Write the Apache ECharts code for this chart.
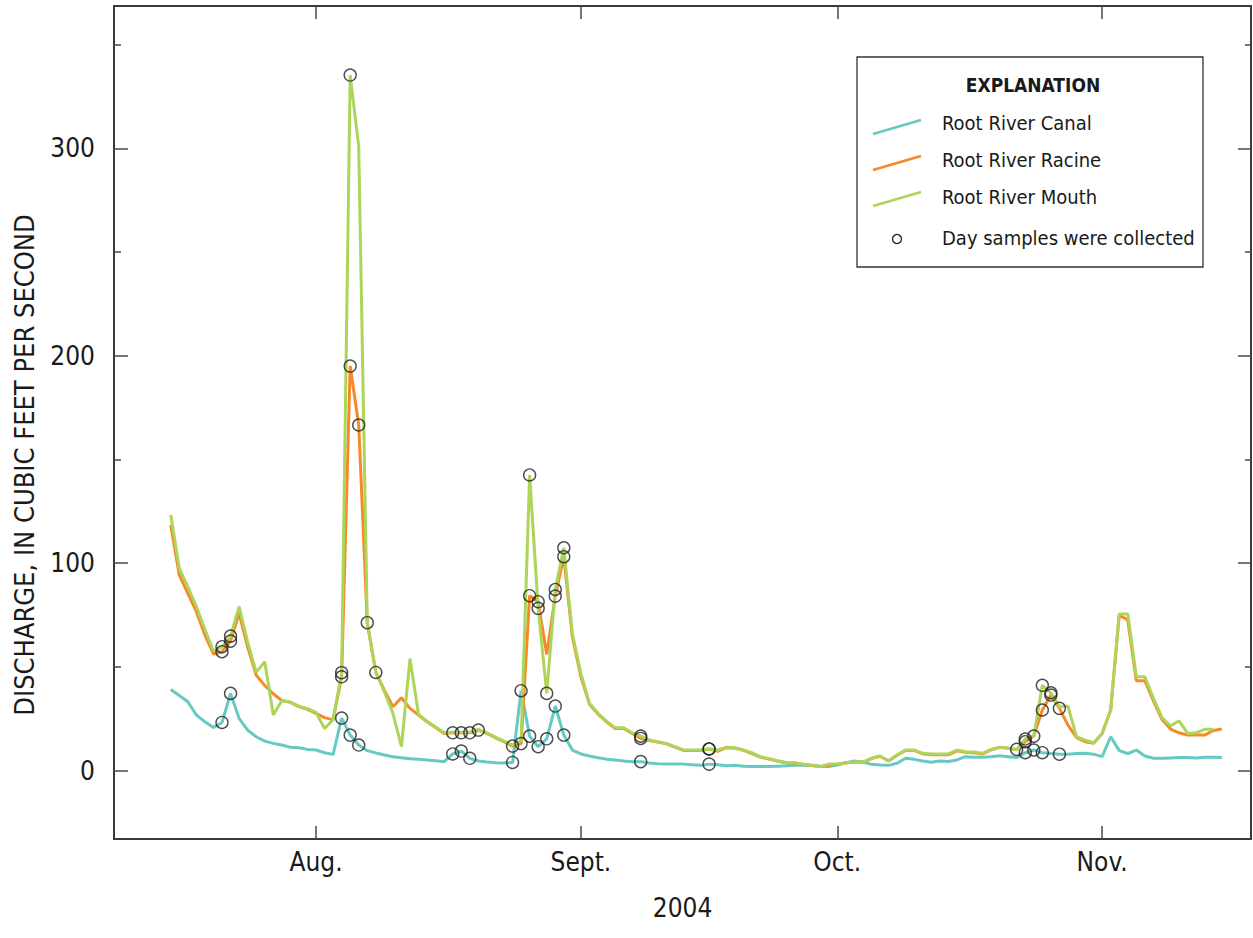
<!DOCTYPE html>
<html>
<head>
<meta charset="utf-8">
<script src="https://cdn.jsdelivr.net/npm/echarts@6/dist/echarts.min.js"></script>
<style>
html,body{margin:0;padding:0;background:#fff;}
#chart{width:1253px;height:938px;}
</style>
</head>
<body>
<div id="chart"></div>
<script>
// Day index: 0 = Aug. 1, 2004; first value is July 15 (day -17)
const startDay = -17;

const canal = [
  39.1, 36.2, 33.2, 26.8, 23.5, 20.8, 23.2, 37.2, 25.2, 19.5,
  16.3, 14.2, 13.1, 12.3, 11.2, 11.0, 10.2, 9.9, 8.6, 7.8,
  25.3, 17.1, 12.3, 9.6, 8.5, 7.5, 6.7, 6.2, 5.7, 5.4,
  5.1, 4.7, 4.3, 8.0, 9.4, 5.9, 4.6, 4.1, 3.8, 3.7,
  3.9, 38.5, 16.6, 11.5, 15.3, 31.1, 17.1, 9.9, 8.0, 7.0,
  6.2, 5.5, 5.1, 4.6, 4.3, 4.3, 3.6, 3.3, 3.1, 3.1,
  3.1, 2.8, 2.5, 3.1, 2.8, 2.3, 2.6, 2.1, 2.0, 1.9,
  1.9, 2.1, 2.3, 2.6, 2.6, 2.5, 2.1, 1.9, 2.7, 3.8,
  4.6, 4.1, 3.0, 2.7, 2.5, 3.5, 5.9, 5.4, 4.6, 4.0,
  4.6, 4.4, 5.1, 6.7, 6.4, 6.4, 6.7, 7.1, 6.7, 6.3,
  8.6, 9.9, 8.6, 8.2, 7.9, 7.9, 8.2, 8.3, 7.9, 6.7,
  16.3, 9.6, 8.2, 9.9, 7.0, 5.9, 5.9, 6.1, 6.3, 6.3,
  6.1, 6.4, 6.4, 6.3
];

const racine = [
  118.4, 94.3, 85.4, 76.6, 65.3, 56.2, 57.3, 62.4, 75.8, 59.5,
  46.0, 41.0, 37.0, 33.8, 32.9, 30.8, 29.5, 27.6, 25.5, 24.5,
  45.2, 195.0, 166.6, 71.3, 47.3, 38.8, 30.8, 35.1, 30.0, 26.8,
  23.5, 20.7, 17.9, 18.2, 18.2, 18.2, 19.5, 17.9, 15.8, 13.9,
  11.8, 13.0, 84.3, 81.4, 56.0, 84.1, 103.1, 64.5, 45.2, 32.0,
  27.2, 23.5, 20.3, 20.3, 17.9, 15.5, 14.5, 13.7, 12.9, 11.3,
  9.7, 9.7, 9.7, 10.4, 9.3, 11.0, 10.9, 9.8, 8.2, 6.5,
  5.5, 4.6, 3.8, 3.6, 3.0, 2.4, 1.9, 2.6, 3.0, 3.7,
  4.0, 4.0, 5.8, 6.9, 4.6, 7.4, 9.7, 9.7, 8.0, 7.6,
  7.6, 7.6, 9.5, 8.8, 8.6, 8.0, 10.0, 11.2, 10.7, 10.2,
  13.9, 16.6, 29.2, 36.4, 30.0, 21.9, 15.9, 13.9, 13.1, 17.9,
  29.2, 75.0, 72.6, 43.3, 43.3, 33.6, 24.7, 20.0, 18.2, 17.1,
  17.1, 17.1, 19.3, 20.0
];

const mouth = [
  123.2, 97.5, 88.6, 79.0, 68.1, 57.5, 59.7, 64.8, 79.0, 62.0,
  47.4, 52.5, 26.8, 33.7, 33.0, 31.0, 29.8, 28.0, 20.3, 24.5,
  47.2, 335.3, 300.8, 71.3, 47.3, 38.0, 27.6, 11.5, 54.0, 27.0,
  23.8, 21.0, 18.2, 18.5, 18.5, 18.5, 19.8, 18.2, 16.1, 14.2,
  12.3, 14.5, 142.5, 78.2, 37.2, 87.3, 107.4, 66.0, 46.8, 32.4,
  27.6, 23.8, 20.6, 20.6, 18.2, 16.6, 14.7, 13.9, 13.1, 11.5,
  9.9, 9.9, 9.9, 10.4, 9.9, 11.2, 11.0, 9.9, 8.6, 6.7,
  5.7, 4.7, 3.9, 3.8, 3.1, 2.5, 1.9, 3.1, 3.1, 3.8,
  4.1, 4.1, 5.9, 7.0, 4.7, 7.5, 9.9, 9.9, 8.3, 8.0,
  8.0, 8.0, 9.9, 9.1, 8.9, 8.3, 10.2, 11.2, 10.7, 10.0,
  15.2, 16.6, 41.1, 37.5, 30.7, 31.1, 16.3, 14.7, 13.4, 17.9,
  29.2, 75.5, 75.5, 45.2, 45.2, 34.8, 25.6, 21.5, 24.0, 17.9,
  18.2, 19.9, 19.9
];

// Days on which samples were collected (per site)
const sampleDaysCanal  = [-11, -10, 3, 4, 5, 16, 17, 18, 23, 24, 25, 26, 27, 28, 29, 38, 46, 83, 84, 85, 87];
const sampleDaysRacine = [-11, -10, 3, 4, 5, 6, 7, 16, 17, 18, 19, 23, 24, 25, 26, 28, 29, 38, 46, 82, 83, 84, 85, 86, 87];
const sampleDaysMouth  = [-11, -10, 3, 4, 25, 26, 27, 28, 29, 38, 46, 83, 85, 86];

const monthDays   = [0, 31, 61, 92];
const monthLabels = ['Aug.', 'Sept.', 'Oct.', 'Nov.'];
const yMajor = [0, 100, 200, 300];
const yMinor = [50, 150, 250, 350];

const seriesNames = ['Root River Canal', 'Root River Racine', 'Root River Mouth'];
const colors = ['#66c9c3', '#f68a2b', '#acd55a'];

const FONT = "'DejaVu Sans Condensed', 'Liberation Sans Narrow', sans-serif";

function toXY(arr) { return arr.map((v, i) => [startDay + i, v]); }
function samplePts(days, arr) { return days.map(d => [d, arr[d - startDay]]); }

const samples = []
  .concat(samplePts(sampleDaysCanal, canal))
  .concat(samplePts(sampleDaysRacine, racine))
  .concat(samplePts(sampleDaysMouth, mouth));

const X_MIN = -23.64, X_MAX = 109.42;
const Y_MIN = -33, Y_MAX = 368.6;
const tickColor = '#4a4a4a';

function yAx(pos, vals, len, labels) {
  return {
    type: 'value', min: Y_MIN, max: Y_MAX, position: pos,
    axisLine: { show: false, onZero: false }, splitLine: { show: false },
    axisTick: { show: true, inside: true, length: len, customValues: vals, lineStyle: { color: tickColor, width: 1.5 } },
    axisLabel: labels ? { show: true, customValues: vals, margin: 19, fontFamily: FONT, fontSize: 26, color: '#1a1a1a' } : { show: false }
  };
}
function xAx(pos, labels) {
  return {
    type: 'value', min: X_MIN, max: X_MAX, position: pos,
    axisLine: { show: false, onZero: false }, splitLine: { show: false },
    axisTick: { show: true, inside: true, length: 13, customValues: monthDays, lineStyle: { color: tickColor, width: 1.5 } },
    axisLabel: labels ? {
      show: true, customValues: monthDays, margin: 10, fontFamily: FONT, fontSize: 26, color: '#1a1a1a',
      formatter: v => monthLabels[monthDays.indexOf(v)]
    } : { show: false },
    name: labels ? '2004' : '', nameLocation: 'middle', nameGap: 56,
    nameTextStyle: { fontFamily: FONT, fontSize: 26, color: '#1a1a1a' }
  };
}

const chart = echarts.init(document.getElementById('chart'), null, { renderer: 'svg' });

const legendX = 857, legendY = 57;
const legendTextStyle = { fontFamily: FONT, fontSize: 20, fill: '#1a1a1a', textVerticalAlign: 'middle' };

chart.setOption({
  animation: false,
  backgroundColor: '#fff',
  grid: { left: 114, top: 6, width: 1137, height: 833, show: true, borderColor: '#3a3a3a', borderWidth: 2, backgroundColor: 'transparent' },
  xAxis: [xAx('bottom', true), xAx('top', false)],
  yAxis: [yAx('left', yMajor, 14, true), yAx('left', yMinor, 7, false), yAx('right', yMajor, 13, false), yAx('right', yMinor, 6, false)],
  series: [
    { name: seriesNames[0], type: 'line', data: toXY(canal), showSymbol: false, lineStyle: { color: colors[0], width: 3 }, z: 2 },
    { name: seriesNames[1], type: 'line', data: toXY(racine), showSymbol: false, lineStyle: { color: colors[1], width: 3 }, z: 3 },
    { name: seriesNames[2], type: 'line', data: toXY(mouth), showSymbol: false, lineStyle: { color: colors[2], width: 3 }, z: 4 },
    { name: 'Day samples were collected', type: 'scatter', data: samples, symbol: 'circle', symbolSize: 12,
      itemStyle: { color: 'rgba(0,0,0,0)', borderColor: '#222', borderWidth: 1.4 }, z: 5 }
  ],
  graphic: [
    { type: 'text', x: 24, y: 465, rotation: Math.PI / 2,
      style: { text: 'DISCHARGE, IN CUBIC FEET PER SECOND', fontFamily: FONT, fontSize: 27, fill: '#1a1a1a', textAlign: 'center', textVerticalAlign: 'middle' } },
    { type: 'group', x: legendX, y: legendY, children: [
      { type: 'rect', shape: { x: 0, y: 0, width: 346, height: 210 }, style: { fill: '#fff', stroke: '#333', lineWidth: 1.3 } },
      { type: 'text', x: 176, y: 28, style: { text: 'EXPLANATION', fontFamily: FONT, fontSize: 19, fontWeight: 'bold', fill: '#1a1a1a', textAlign: 'center', textVerticalAlign: 'middle' } },
      { type: 'line', shape: { x1: 16, y1: 77, x2: 64, y2: 63 }, style: { stroke: colors[0], lineWidth: 2.6 } },
      { type: 'line', shape: { x1: 16, y1: 113, x2: 64, y2: 99 }, style: { stroke: colors[1], lineWidth: 2.6 } },
      { type: 'line', shape: { x1: 16, y1: 149, x2: 64, y2: 135 }, style: { stroke: colors[2], lineWidth: 2.6 } },
      { type: 'circle', shape: { cx: 40, cy: 182, r: 4.5 }, style: { fill: 'none', stroke: '#222', lineWidth: 1.3 } },
      { type: 'text', x: 85, y: 66, style: Object.assign({ text: seriesNames[0] }, legendTextStyle) },
      { type: 'text', x: 85, y: 103, style: Object.assign({ text: seriesNames[1] }, legendTextStyle) },
      { type: 'text', x: 85, y: 140, style: Object.assign({ text: seriesNames[2] }, legendTextStyle) },
      { type: 'text', x: 85, y: 181, style: Object.assign({ text: 'Day samples were collected' }, legendTextStyle) }
    ] }
  ]
});
</script>
</body>
</html>
